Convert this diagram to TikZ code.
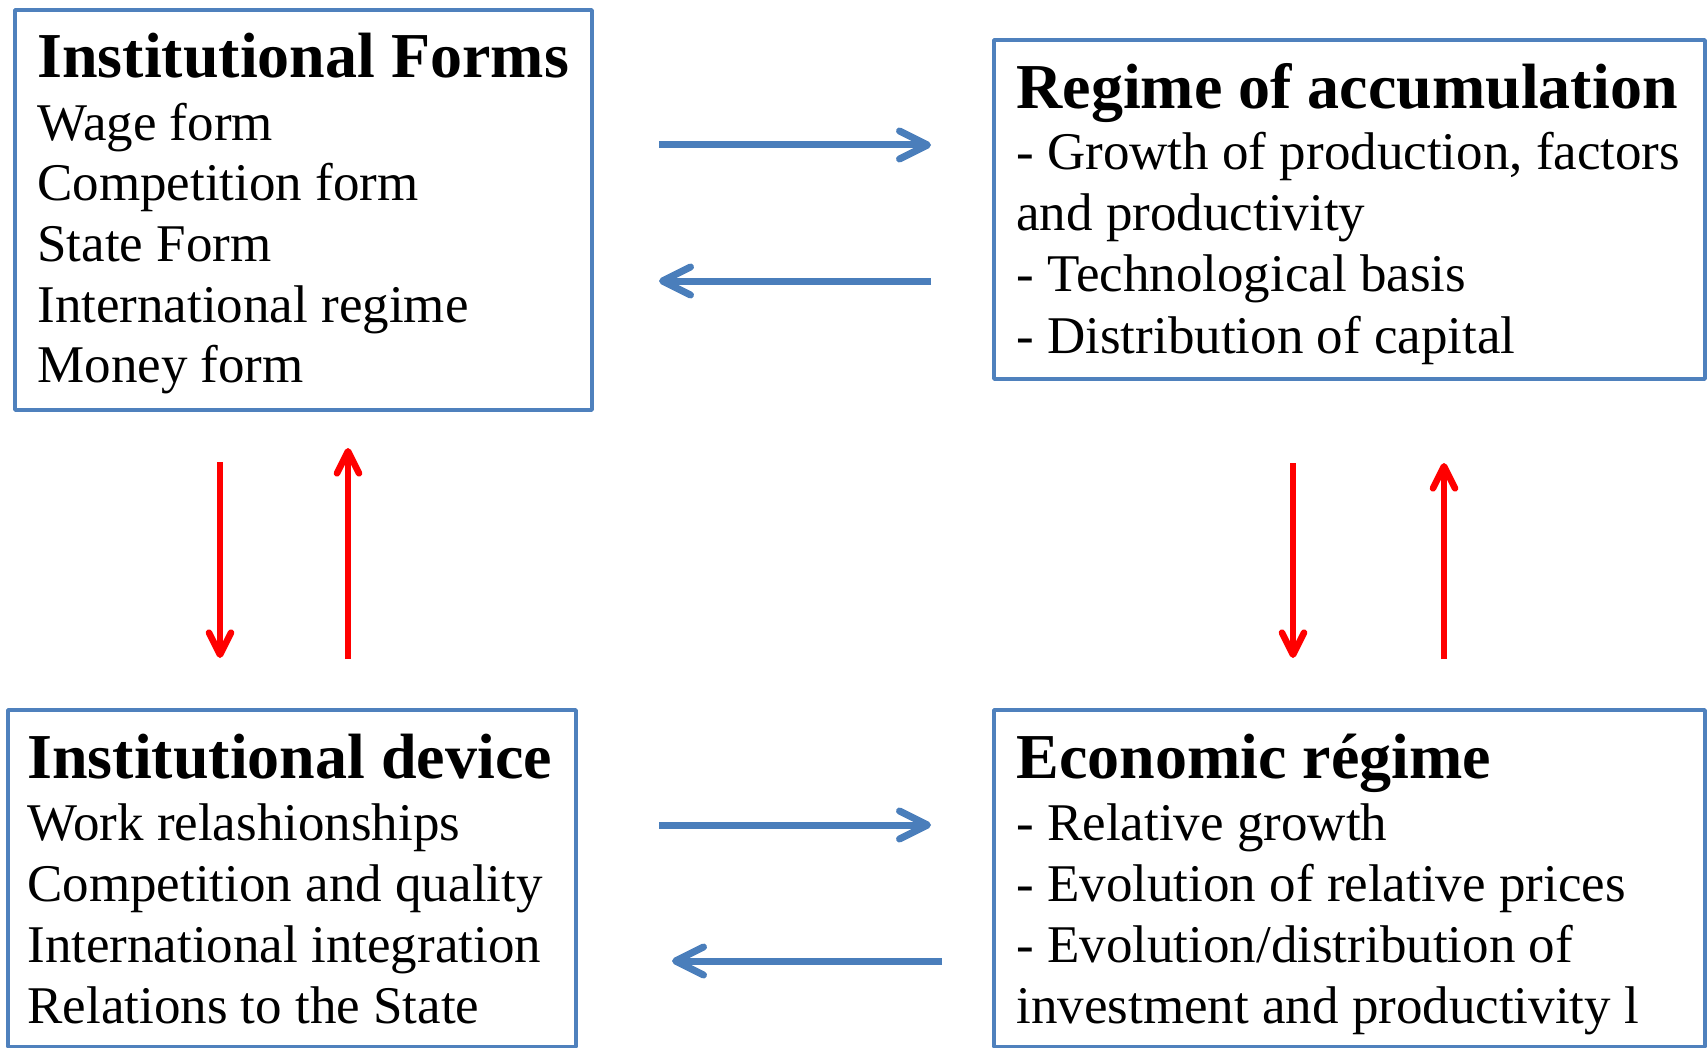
\documentclass[tikz,border=0pt]{standalone}
\usepackage{fontspec}
\setmainfont{Liberation Serif}
\usetikzlibrary{arrows.meta}
\definecolor{boxblue}{RGB}{79,129,189}
\definecolor{arrblue}{RGB}{74,126,187}
\definecolor{arrred}{RGB}{255,0,0}

\begin{document}
\begin{tikzpicture}[x=0.5pt,y=-0.5pt,line join=round]
	\tikzset{panel/.style={draw=boxblue,line width=1.8pt,rectangle,inner sep=0pt,outer sep=0pt,anchor=north west},
		head/.style={font=\fontsize{32}{36}\selectfont\bfseries,anchor=base west,inner sep=0pt},
		item/.style={font=\fontsize{26.5}{30.5}\selectfont,anchor=base west,inner sep=0pt},
		bluearr/.style={arrblue,line width=3.5pt,-{Straight Barb[length=14pt,width=14pt,round]}},
		redarr/.style={arrred,line width=3.3pt,-{Straight Barb[length=11pt,width=11pt,round]}}}
	\useasboundingbox (0,0) rectangle (1707,1048);
	% boxes
	\node[panel,minimum width=288.5pt,minimum height=200pt] (forms) at (15,10) {};
	\node[panel,minimum width=355.5pt,minimum height=169.5pt] (accum) at (994,40) {};
	\node[panel,minimum width=284pt,minimum height=168.5pt] (device) at (8,710) {};
	\node[panel,minimum width=355.5pt,minimum height=168.5pt] (econ) at (994,710) {};
	% texts
	\node[head] (formsT) at (37,78) {Institutional Forms};
	\foreach \t [count=\i] in {Wage form, Competition form, State Form, International regime, Money form}
		\node[item] (forms\i) at (37,{80+60.5*\i}) {\t};
	\node[head] (accumT) at (1016,109) {Regime of accumulation};
	\foreach \t [count=\i] in {{- Growth of production, factors}, and productivity, - Technological basis, - Distribution of capital}
		\node[item] (accum\i) at (1016,{109+61*\i}) {\t};
	\node[head] (deviceT) at (27,778) {Institutional device};
	\foreach \t [count=\i] in {Work relashionships, Competition and quality, International integration, Relations to the State}
		\node[item] (device\i) at (27,{779+61*\i}) {\t};
	\node[head] (econT) at (1016,778) {Economic régime};
	\foreach \t [count=\i] in {- Relative growth, - Evolution of relative prices, - Evolution/distribution of, investment and productivity l}
		\node[item] (econ\i) at (1016,{779+61*\i}) {\t};
	% arrow ends
	\coordinate (t1) at (659,145); \coordinate (t2) at (931,145);
	\coordinate (t3) at (931,281); \coordinate (t4) at (659,281);
	\coordinate (b1) at (659,825); \coordinate (b2) at (931,825);
	\coordinate (b3) at (942,961); \coordinate (b4) at (672,961);
	\coordinate (l1) at (220,462); \coordinate (l2) at (220,658);
	\coordinate (l3) at (348,659); \coordinate (l4) at (348,448);
	\coordinate (r1) at (1293,463); \coordinate (r2) at (1293,658);
	\coordinate (r3) at (1444,659); \coordinate (r4) at (1444,463);
	\draw[bluearr] (t1)--(t2); \draw[bluearr] (t3)--(t4);
	\draw[bluearr] (b1)--(b2); \draw[bluearr] (b3)--(b4);
	\draw[redarr] (l1)--(l2); \draw[redarr] (l3)--(l4);
	\draw[redarr] (r1)--(r2); \draw[redarr] (r3)--(r4);
\end{tikzpicture}
\end{document}
